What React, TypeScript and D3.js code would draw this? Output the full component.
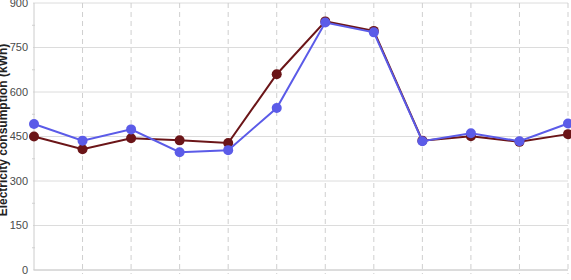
import React, { useEffect, useRef } from "react";
import * as d3 from "d3";

const months = ["Jan", "Feb", "Mar", "Apr", "May", "Jun", "Jul", "Aug", "Sep", "Oct", "Nov", "Dec"];
const seriesRed = [450, 407, 444, 437, 428, 660, 838, 806, 436, 451, 432, 458];
const seriesBlue = [492, 436, 474, 397, 404, 546, 834, 801, 434, 461, 434, 494];
const yTicks = [0, 150, 300, 450, 600, 750, 900];
const yMinorTicks = [75, 225, 375, 525, 675, 825];

const W = 571;
const H = 280;

export default function App() {
  const ref = useRef<SVGSVGElement | null>(null);

  useEffect(() => {
    const svg = d3.select(ref.current);
    svg.selectAll("*").remove();

    const x = d3.scalePoint<string>().domain(months).range([34, 568]);
    const y = d3.scaleLinear().domain([0, 900]).range([270, 3]);

    const g = svg.append("g");

    // horizontal grid
    g.selectAll("line.hgrid")
      .data(yTicks)
      .enter()
      .append("line")
      .attr("x1", 33)
      .attr("x2", 568)
      .attr("y1", (d) => y(d))
      .attr("y2", (d) => y(d))
      .attr("stroke", "#dcdcdc")
      .attr("stroke-width", 1);

    // vertical dashed grid
    g.selectAll("line.vgrid")
      .data(months.slice(1))
      .enter()
      .append("line")
      .attr("x1", (d) => x(d)!)
      .attr("x2", (d) => x(d)!)
      .attr("y1", y(900))
      .attr("y2", y(0) + 4)
      .attr("stroke", "#cfcfcf")
      .attr("stroke-width", 1)
      .attr("stroke-dasharray", "5,4");

    // y axis line
    g.append("line")
      .attr("x1", 34)
      .attr("x2", 34)
      .attr("y1", y(900))
      .attr("y2", y(0))
      .attr("stroke", "#cccccc");

    // x axis line
    g.append("line")
      .attr("x1", 34)
      .attr("x2", 568)
      .attr("y1", y(0))
      .attr("y2", y(0))
      .attr("stroke", "#cccccc");

    // minor ticks
    g.selectAll("line.minor")
      .data(yMinorTicks)
      .enter()
      .append("line")
      .attr("x1", 32)
      .attr("x2", 35)
      .attr("y1", (d) => y(d))
      .attr("y2", (d) => y(d))
      .attr("stroke", "#d0d0d0");

    // y tick labels
    g.selectAll("text.ytick")
      .data(yTicks)
      .enter()
      .append("text")
      .attr("x", 28)
      .attr("y", (d) => y(d))
      .attr("dy", "0.35em")
      .attr("text-anchor", "end")
      .attr("font-family", "Liberation Sans, Arial, sans-serif")
      .attr("font-size", 11)
      .attr("fill", "#4a4a4a")
      .text((d) => String(d));

    // y title
    g.append("text")
      .attr("transform", `translate(7,130) rotate(-90)`)
      .attr("text-anchor", "middle")
      .attr("font-family", "Liberation Sans, Arial, sans-serif")
      .attr("font-size", 12)
      .attr("font-weight", "bold")
      .attr("fill", "#222")
      .text("Electricity consumption (kWh)");

    const line = d3
      .line<number>()
      .x((_, i) => x(months[i])!)
      .y((d) => y(d));

    const drawSeries = (data: number[], color: string) => {
      g.append("path")
        .datum(data)
        .attr("d", line)
        .attr("fill", "none")
        .attr("stroke", color)
        .attr("stroke-width", 2);
      g.selectAll(null)
        .data(data)
        .enter()
        .append("circle")
        .attr("cx", (_, i) => x(months[i])!)
        .attr("cy", (d) => y(d))
        .attr("r", 5)
        .attr("fill", color);
    };

    drawSeries(seriesRed, "#6b1518");
    drawSeries(seriesBlue, "#5b5be8");
  }, []);

  return (
    <svg
      ref={ref}
      width={W}
      height={H}
      style={{ position: "absolute", left: 0, top: 0, background: "#fff" }}
    />
  );
}
